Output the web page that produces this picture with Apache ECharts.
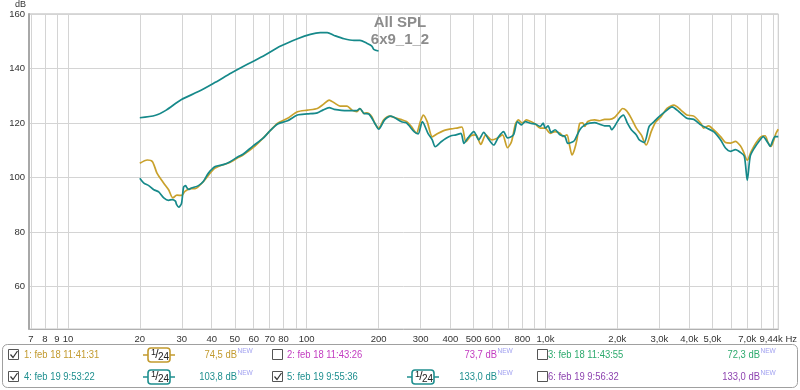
<!DOCTYPE html>
<html><head><meta charset="utf-8">
<script src="https://cdn.jsdelivr.net/npm/echarts@6/dist/echarts.min.js"></script>
<style>html,body{margin:0;padding:0;background:#fff}#c{width:800px;height:390px}</style>
</head><body><div id="c"></div>
<script>
// ---- data ----
const s1Freq = [20,21.5,22.6,23.6,25.2,26.4,27.5,28.6,29.9,30.9,32.5,34.1,36.9,41.3,47.6,51.6,54.1,60.7,65.5,70,75.6,83.2,91.5,100.7,110.8,117.3,124.2,130.3,138,147.6,154.8,162.3,167.1,173.6,178.6,187.4,192.8,200.3,210.1,222.5,233.4,249.5,261.7,274.5,288,299.2,307.9,319.9,335.6,352.1,372.8,402.4,430.1,446.9,464.3,487.1,510.9,535.8,562.2,595.4,630.3,661.1,693.5,720.5,748.6,770.4,800.6,831.8,872.5,906.5,950.6,997.2,1046,1097,1151,1184,1230,1260,1291,1320,1354,1393,1433,1461,1504,1608,1687,1769,1856,1946,2042,2101,2183,2289,2402,2519,2642,2772,2852,2907,3050,3229,3453,3692,3910,4181,4470,4600,4825,5060,5410,5675,5954,6245,6550,6741,7003,7276,7600,8006,8318,8556,8805,9236,9440];
const s1Db = [105.2,106.4,105.8,101.6,97.9,95.5,92.5,93.5,93.4,94.9,95.9,95.9,98.5,103.4,105.5,107.3,108.2,111.5,114.3,117,119.9,121.7,124.1,124.7,125.3,126.8,128.4,127.4,126.2,126.2,124.7,124.1,125.3,123.5,123.7,122.3,119.9,118.1,121.1,122.5,122,121.2,120.5,118.7,116.2,120.5,122.9,120.4,114.9,116,117.1,117.8,118.2,118.5,113.1,115.3,115.6,112.1,115.6,113.8,114.5,115.6,110.9,113.1,119.6,121.1,119.9,121.1,120.4,119.6,118.1,118.1,116.2,116.8,116.2,115,115.6,112,108.3,110,113.8,119.9,120,118.7,120.5,121.1,120.8,121.3,121.3,122,124.1,125.3,124.5,121.7,118.1,115.6,111.9,116.8,119.3,120.5,122.3,125.3,126.5,124.7,122.9,122.5,119.9,118.1,118.9,117.5,115,112.8,112.6,113.2,111.6,109.6,106.3,109.6,112.6,115,115.3,112.8,111.4,116.2,117.7];

const s4Freq = [20,20.8,21.8,22.9,24,25.2,26.4,27.3,28.2,28.5,29.1,29.9,30.5,31.1,31.4,32,32.9,35.2,36.9,38.7,41.4,44.7,47.8,51.6,54.1,59.5,65.5,70,75.6,83.2,91.5,100.7,110.8,117.3,124.2,130.3,147.6,162.3,167.1,173.6,182,192.8,200.3,212,225,249.5,261.7,282.5,293,305,322,335.6,345.4,365.8,383.6,402.4,422,442.7,455.5,473.3,501.2,525.7,551.5,573.1,606.7,636.3,667.5,693.5,734.5,763.1,793,823.9,864.1,906.5,950.6,978.4,997.2,1026,1056,1097,1151,1207,1240,1303,1328,1393,1461,1533,1608,1687,1769,1856,1892,1946,2042,2121,2204,2289,2402,2472,2593,2719,2852,2992,3229,3388,3623,3910,4181,4470,4733,5060,5410,5675,5954,6245,6550,6806,7003,7207,7500,7930,8160,8556,8721,9148,9440];
const s4Db = [99.7,97.9,97,95.5,94.7,92.5,91.6,91.9,91.3,90.1,89.1,90.5,96.4,97,96.4,95.6,96.1,97,98.5,101.5,104,104.7,105.8,107.6,108.5,111.5,114.3,117,119.6,120.8,122.9,123.3,123.7,124.8,125.6,125,124.5,124.5,125.3,123.5,123.3,119.9,117.7,121.1,122.5,120.4,120,116.7,116,120.5,116.2,113.8,111.3,113.1,114.4,115.3,115.6,116.2,112.5,114.5,116.8,113.8,116.5,114.5,111.9,114.9,116.8,114.5,115.6,120.5,119.3,120.5,119.9,119.6,118.7,119.9,118.1,118.9,116.5,117.5,115.6,115,112.5,113.1,113.8,117.5,119.3,119.9,120.1,119.5,118.9,118.9,117.5,118.7,121.7,122.9,119.9,117.5,115.6,113.8,112.8,118.7,120.5,122.3,124.7,125.9,124.1,121.7,121.3,119.3,118.1,116.8,113.8,110.8,109.6,110.2,109.2,107.8,99,107.8,110.8,113.8,115,112.6,111.4,115,115];

const s5Freq = [20,23.3,25.7,29.9,35.2,41.4,48.3,56.7,66.7,77.8,91.5,103.6,114,121.9,130.3,143.4,157.8,167.1,178.6,187.4,190.9,200];
const s5Db = [121.9,122.8,124.6,128.6,131.5,134.9,138.3,141.6,144.8,148.2,150.9,152.5,153.1,153.1,152.1,150.9,150.3,150.3,149.2,148.2,147,146.4];

const xGridFreqs = [7,8,9,10,20,30,40,50,60,70,80,90,100,200,300,400,500,600,700,800,900,1000,2000,3000,4000,5000,6000,7000,8000,9000];
const xLabelFreqs = [7,8,9,10,20,30,40,50,60,70,80,100,200,300,400,500,600,800,1000,2000,3000,4000,5000,7000,9440];
const xLabelTexts = ['7','8','9','10','20','30','40','50','60','70','80','100','200','300','400','500','600','800','1,0k','2,0k','3,0k','4,0k','5,0k','7,0k','9,44k Hz'];
const yTicks = [60,80,100,120,140,160];

const legendNames = ['1: feb 18 11:41:31','2: feb 18 11:43:26','3: feb 18 11:43:55','4: feb 19 9:53:22','5: feb 19 9:55:36','6: feb 19 9:56:32'];
const legendLevels = ['74,5 dB','73,7 dB','72,3 dB','103,8 dB','133,0 dB','133,0 dB'];
const legendChecked = [true,false,false,true,true,false];
const legendColors = ['#c29a2e','#c23cc0','#2eaa6e','#1f8f8f','#1f8f8f','#8e44b0'];

// ---- build ----
const GOLD = '#c9a12c', TEAL = '#16898a';
const FN = "'Liberation Sans', Arial, sans-serif";
const SX = 0.82;
const toPts = (fs, ds) => fs.map((f, i) => [Math.log10(f), ds[i]]);
function labelFor(v) {
  let best = 0, bd = 1e9;
  xLabelFreqs.forEach((f, i) => { const d = Math.abs(Math.log10(f) - v); if (d < bd) { bd = d; best = i; } });
  return bd < 1e-3 ? xLabelTexts[best] : '';
}

const chart = echarts.init(document.getElementById('c'), null, {renderer: 'canvas'});

const graphics = [];
graphics.push({type:'rect', shape:{x:2.5,y:344.5,width:795,height:43,r:5}, style:{fill:'#fff',stroke:'#a0a0a0',lineWidth:1}, z:1});
const colBox = [8, 272, 537], colName = [24, 287, 548], colIcon = [159, 423, 0], colLevel = [237, 497, 760];
const rowY = [355, 377];
const txt = (x, y, text, size, fill, align, sx) => ({
  type:'text', x:x, y:y, scaleX: sx, scaleY: 1,
  style:{text:text, x:0, y:0, fontSize:size, fontFamily:FN, fill:fill, align:align, verticalAlign:'middle'}, z:3
});
legendNames.forEach((name, i) => {
  const r = Math.floor(i / 3), c = i % 3, cy = rowY[r], col = legendColors[i];
  graphics.push({type:'rect', shape:{x:colBox[c]+0.5, y:cy-5.5, width:10, height:10}, style:{fill:'#fff', stroke:'#555', lineWidth:1}, z:2});
  if (legendChecked[i]) {
    graphics.push({type:'polyline', shape:{points:[[colBox[c]+2.5,cy-0.5],[colBox[c]+5,cy+2.5],[colBox[c]+9.5,cy-4]]}, style:{stroke:'#333', lineWidth:1.2, fill:null}, z:3});
    const ix = colIcon[c];
    graphics.push({type:'line', shape:{x1:ix-16,y1:cy,x2:ix-11,y2:cy}, style:{stroke:col,lineWidth:1.5}, z:2});
    graphics.push({type:'line', shape:{x1:ix+11,y1:cy,x2:ix+16,y2:cy}, style:{stroke:col,lineWidth:1.5}, z:2});
    graphics.push({type:'rect', shape:{x:ix-11,y:cy-7,width:22,height:14,r:3}, style:{fill:'#fff',stroke:col,lineWidth:1.6}, z:2});
    graphics.push(txt(ix-5.5, cy-2.5, '1', 9, '#222', 'center', 1));
    graphics.push(txt(ix-2, cy, '/', 12, '#222', 'center', 1));
    graphics.push(txt(ix+4.5, cy+2, '24', 10, '#222', 'center', 1));
  }
  graphics.push(txt(colName[c], cy, name, 11.5, col, 'left', SX));
  graphics.push(txt(colLevel[c], cy, legendLevels[i], 11.5, col, 'right', SX));
  graphics.push(txt(colLevel[c] + 0.5, cy - 4, 'NEW', 8, '#a0a0f0', 'left', SX));
});

const option = {
  animation: false,
  backgroundColor: '#fff',
  title: {
    text: 'All SPL\n6x9_1_2', left: 'center', top: 9,
    textStyle: {fontSize: 15, fontWeight: 'bold', color: '#8c8c8c', fontFamily: FN, lineHeight: 17}
  },
  grid: {left: 29, right: 15, top: 11, bottom: 61, show: true, borderColor: '#c4c4c4', borderWidth: 1},
  xAxis: {
    type: 'value', min: Math.log10(6.87), max: Math.log10(9440),
    axisLine: {show: true, lineStyle: {color: '#b0b0b0'}},
    axisTick: {show: false, customValues: xGridFreqs.map(f => Math.log10(f))},
    splitLine: {show: true, lineStyle: {color: '#d4d4d4', width: 1}},
    axisLabel: {
      customValues: xLabelFreqs.map(f => Math.log10(f)),
      formatter: v => labelFor(v),
      fontSize: 9.5, color: '#333', margin: 5, fontFamily: FN,
      showMaxLabel: true, showMinLabel: true
    }
  },
  yAxis: {
    type: 'value', min: 44.4, max: 160,
    name: 'dB', nameLocation: 'end', nameGap: 2,
    nameTextStyle: {fontSize: 9, color: '#333', align: 'right', padding: [0, 3, 0, 0], fontFamily: FN},
    axisLine: {show: true, lineStyle: {color: '#a8a8a8', width: 2}},
    axisTick: {show: false, customValues: yTicks},
    splitLine: {show: true, lineStyle: {color: '#d4d4d4', width: 1}},
    axisLabel: {customValues: yTicks, fontSize: 9.5, color: '#333', margin: 4, fontFamily: FN}
  },
  series: [
    {name: 's1', type: 'line', data: toPts(s1Freq, s1Db), showSymbol: false, smooth: 0.25, lineStyle: {color: GOLD, width: 1.7}, itemStyle: {color: GOLD}, z: 2},
    {name: 's4', type: 'line', data: toPts(s4Freq, s4Db), showSymbol: false, smooth: 0.25, lineStyle: {color: TEAL, width: 1.7}, itemStyle: {color: TEAL}, z: 3},
    {name: 's5', type: 'line', data: toPts(s5Freq, s5Db), showSymbol: false, smooth: 0.3, lineStyle: {color: TEAL, width: 1.7}, itemStyle: {color: TEAL}, z: 3}
  ],
  graphic: graphics
};
chart.setOption(option);
</script></body></html>
